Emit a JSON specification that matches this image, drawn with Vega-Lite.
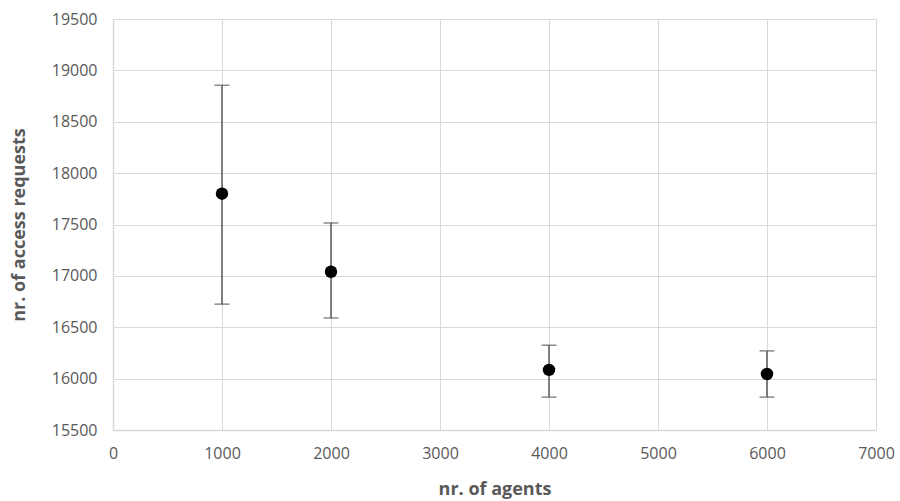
{
  "$schema": "https://vega.github.io/schema/vega-lite/v6.json",
  "autosize": {"type": "none"},
  "width": 763,
  "height": 411,
  "padding": {"left": 113, "top": 19, "right": 24, "bottom": 71},
  "background": "white",
  "data": {"values": [
    {"agents": 1000, "requests": 17800, "low": 16725, "high": 18855},
    {"agents": 2000, "requests": 17040, "low": 16590, "high": 17515},
    {"agents": 4000, "requests": 16085, "low": 15820, "high": 16325},
    {"agents": 6000, "requests": 16045, "low": 15820, "high": 16270}
  ]},
  "config": {
    "view": {"stroke": "#d9d9d9", "strokeWidth": 1},
    "axis": {
      "labelFont": "Open Sans", "labelFontSize": 16, "labelColor": "#595959",
      "titleFont": "Open Sans", "titleFontSize": 18, "titleFontWeight": "bold", "titleColor": "#595959",
      "gridColor": "#d9d9d9", "gridWidth": 1, "domainColor": "#d9d9d9", "domainWidth": 1.5, "ticks": false
    }
  },
  "encoding": {
    "x": {"field": "agents", "type": "quantitative",
      "scale": {"domain": [0, 7000], "nice": false},
      "axis": {"title": "nr. of agents", "values": [0,1000,2000,3000,4000,5000,6000,7000], "format": "d", "labelPadding": 15, "titleY": 59, "titleBaseline": "middle", "labelFlush": false}}
  },
  "layer": [
    {
      "mark": {"type": "rule", "color": "#595959", "strokeWidth": 1.5},
      "encoding": {
        "y": {"field": "low", "type": "quantitative",
          "scale": {"domain": [15500, 19500], "nice": false, "zero": false},
          "axis": {"title": "nr.  of access requests", "values": [15500,16000,16500,17000,17500,18000,18500,19000,19500], "format": "d", "labelPadding": 16, "titleX": -85, "labelFlush": false}},
        "y2": {"field": "high"}
      }
    },
    {
      "mark": {"type": "tick", "orient": "horizontal", "color": "#595959", "size": 15, "thickness": 1.5},
      "encoding": {"y": {"field": "high", "type": "quantitative"}}
    },
    {
      "mark": {"type": "tick", "orient": "horizontal", "color": "#595959", "size": 15, "thickness": 1.5},
      "encoding": {"y": {"field": "low", "type": "quantitative"}}
    },
    {
      "mark": {"type": "point", "filled": true, "color": "black", "opacity": 1, "size": 155},
      "encoding": {"y": {"field": "requests", "type": "quantitative"}}
    }
  ]
}
